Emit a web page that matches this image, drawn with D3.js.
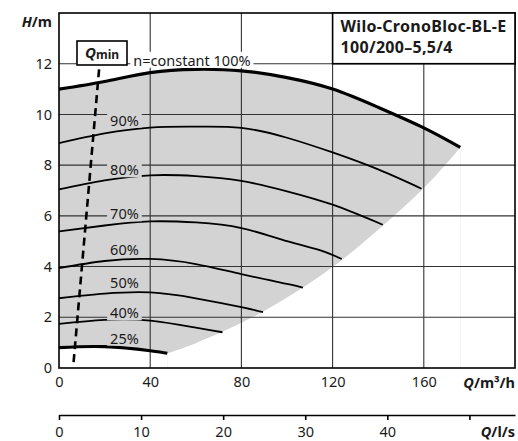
<!DOCTYPE html>
<html>
<head>
<meta charset="utf-8">
<script src="https://cdn.jsdelivr.net/npm/d3@7"></script>
<style>
  body { margin: 0; background: #fff; }
  svg text { font-family: "Noto Sans", "Open Sans", sans-serif; fill: #1a1a1a; }
</style>
</head>
<body>
<div id="chart"></div>
<script>
// pump curves: Q in m3/h, H in m
var q100 = [0, 20, 40, 60, 80, 100, 120, 140, 160, 176];
var h100 = [11.0, 11.3, 11.65, 11.78, 11.72, 11.45, 11.0, 10.28, 9.47, 8.7];
var q90 = [0, 20, 40, 60, 80, 100, 120, 140, 159];
var h90 = [8.87, 9.25, 9.48, 9.52, 9.47, 9.08, 8.5, 7.83, 7.07];
var q80 = [0, 20, 40, 60, 80, 100, 120, 142];
var h80 = [7.04, 7.4, 7.6, 7.57, 7.38, 6.97, 6.44, 5.65];
var q70 = [0, 20, 40, 60, 80, 100, 114, 124];
var h70 = [5.39, 5.62, 5.78, 5.74, 5.52, 5.0, 4.66, 4.3];
var q60 = [0, 20, 40, 60, 80, 100, 107];
var h60 = [3.94, 4.22, 4.3, 4.1, 3.7, 3.32, 3.17];
var q50 = [0, 20, 40, 60, 80, 89.5];
var h50 = [2.75, 2.93, 2.98, 2.75, 2.4, 2.2];
var q40 = [0, 20, 40, 60, 71.7];
var h40 = [1.74, 1.9, 1.87, 1.59, 1.41];
var q25 = [0, 20, 40, 47.5];
var h25 = [0.8, 0.84, 0.68, 0.58];
// lower right edge of the operating range
var qEdge = [47.5, 60, 80, 100, 120, 140, 160, 176];
var hEdge = [0.58, 0.98, 1.78, 2.78, 3.98, 5.45, 7.1, 8.7];
// Qmin line
var qMin = [6.4, 17.8];
var hMin = [0.23, 12];

var speedLabels = ["90%", "80%", "70%", "60%", "50%", "40%", "25%"];
var topLabel = "n=constant 100%";
var qTicks = [0, 40, 80, 120, 160];
var lsTicks = [0, 10, 20, 30, 40, 50];
var hTicks = [0, 2, 4, 6, 8, 10, 12];
var titleLines = ["Wilo-CronoBloc-BL-E", "100/200–5,5/4"];

function pts(qs, hs) {
  return qs.map(function(q, i) { return {q: q, h: hs[i]}; });
}

var margin = {left: 59, right: 3, top: 13, bottom: 73};
var width = 518 - margin.left - margin.right;
var height = 441 - margin.top - margin.bottom;
var gray = "#d3d3d3";

var svg = d3.select("#chart").append("svg")
    .attr("width", 518)
    .attr("height", 441)
  .append("g")
    .attr("transform", "translate(" + margin.left + "," + margin.top + ")");

var x = d3.scaleLinear().domain([0, 200]).range([0, width]);
var y = d3.scaleLinear().domain([0, 14]).range([height, 0]);
var xl = d3.scaleLinear().domain([0, 200 / 3.6]).range([0, width]);

var line = d3.line()
  .x(d => x(d.q))
  .y(d => y(d.h))
  .curve(d3.curveNatural);
var area = d3.area()
  .x(d => x(d.q))
  .y0(y(0))
  .y1(d => y(d.h))
  .curve(d3.curveNatural);

// operating range: gray under the 100% curve, white cut out below the min curves
svg.append("path").attr("d", area(pts(q100, h100))).attr("fill", gray);
svg.append("path").attr("d", area(pts(q25, h25))).attr("fill", "#fff");
svg.append("path").attr("d", area(pts(qEdge, hEdge))).attr("fill", "#fff");

// grid
svg.append("g").selectAll("line")
  .data(qTicks.slice(1))
  .enter().append("line")
    .attr("x1", d => x(d)).attr("x2", d => x(d))
    .attr("y1", 0).attr("y2", height)
    .attr("stroke", "#333").attr("stroke-width", 1.1);
svg.append("g").selectAll("line")
  .data(hTicks.slice(1))
  .enter().append("line")
    .attr("x1", 0).attr("x2", width)
    .attr("y1", d => y(d)).attr("y2", d => y(d))
    .attr("stroke", "#333").attr("stroke-width", 1.1);

// speed curves
var curves = [
  {p: pts(q100, h100), w: 3.2},
  {p: pts(q90, h90), w: 1.8},
  {p: pts(q80, h80), w: 1.8},
  {p: pts(q70, h70), w: 1.8},
  {p: pts(q60, h60), w: 1.8},
  {p: pts(q50, h50), w: 1.8},
  {p: pts(q40, h40), w: 1.8},
  {p: pts(q25, h25), w: 3.2}
];
svg.append("g").selectAll("path")
  .data(curves)
  .enter().append("path")
    .attr("d", d => line(d.p))
    .attr("fill", "none")
    .attr("stroke", "#000")
    .attr("stroke-width", d => d.w);

// curve labels, on a patch of background that breaks the grid line
var labelH = [9.76, 7.8, 6.06, 4.66, 3.36, 2.16, 1.16];
function addLabel(txt, q, h, bg) {
  var g = svg.append("g");
  var t = g.append("text")
    .attr("x", x(q)).attr("y", y(h))
    .attr("text-anchor", "middle")
    .attr("dy", "0.35em")
    .attr("font-size", 14.5)
    .text(txt);
  var b = t.node().getBBox();
  g.insert("rect", "text")
    .attr("x", b.x - 3).attr("y", b.y + 2)
    .attr("width", b.width + 6).attr("height", b.height - 4)
    .attr("fill", bg);
}
speedLabels.forEach(function(s, i) { addLabel(s, 28.7, labelH[i], gray); });
addLabel(topLabel, 58.3, 12.12, "#fff");

// Qmin
svg.append("path")
  .attr("d", d3.line().x(d => x(d.q)).y(d => y(d.h))(pts(qMin, hMin)))
  .attr("stroke", "#000")
  .attr("stroke-width", 2.6)
  .attr("stroke-dasharray", "8,5");
var qBox = svg.append("g");
qBox.append("rect")
  .attr("x", 18).attr("y", 28).attr("width", 50).attr("height", 24)
  .attr("fill", "#fff").attr("stroke", "#000").attr("stroke-width", 1.6);
var qt = qBox.append("text")
  .attr("x", 43).attr("y", 45)
  .attr("text-anchor", "middle")
  .attr("font-weight", "bold");
qt.append("tspan").attr("font-size", 15).attr("font-style", "italic").text("Q");
qt.append("tspan").attr("font-size", 12).attr("dy", 1).text("min");

// frame
svg.append("rect")
  .attr("x", 0).attr("y", 0).attr("width", width).attr("height", height)
  .attr("fill", "none").attr("stroke", "#000").attr("stroke-width", 1.6);

// title box in the top right cell
var tb = svg.append("g");
tb.append("rect")
  .attr("x", x(120)).attr("y", 0)
  .attr("width", width - x(120)).attr("height", y(12))
  .attr("fill", "#fff").attr("stroke", "#000").attr("stroke-width", 1.6);
tb.selectAll("text")
  .data(titleLines)
  .enter().append("text")
    .attr("x", x(120) + 8)
    .attr("y", (d, i) => 19 + i * 21)
    .attr("font-size", 16)
    .attr("letter-spacing", 0.3)
    .attr("font-weight", "bold")
    .text(d => d);

// axes
var yAxis = svg.append("g")
  .call(d3.axisLeft(y).tickValues(hTicks).tickSize(0).tickPadding(7));
var xAxis = svg.append("g")
  .attr("transform", "translate(0," + height + ")")
  .call(d3.axisBottom(x).tickValues(qTicks).tickSize(0).tickPadding(9));
var lsAxis = svg.append("g")
  .attr("transform", "translate(0," + (height + 47) + ")")
  .call(d3.axisBottom(xl).tickValues(lsTicks).tickSizeInner(5).tickSizeOuter(0).tickPadding(7)
    .tickFormat(d => d < 50 ? d : ""));
[yAxis, xAxis, lsAxis].forEach(function(a) {
  a.attr("font-family", null).attr("font-size", null);
  a.selectAll("text").attr("font-size", 14.5).attr("fill", "#1a1a1a");
});
yAxis.select(".domain").remove();
xAxis.select(".domain").remove();
lsAxis.select(".domain").attr("stroke-width", 1.6);
lsAxis.selectAll(".tick line").attr("stroke-width", 1.6);

// axis titles
var hl = svg.append("text")
  .attr("x", -7).attr("y", 14)
  .attr("text-anchor", "end")
  .attr("font-size", 14.5).attr("font-weight", "bold");
hl.append("tspan").attr("font-style", "italic").text("H");
hl.append("tspan").text("/m");

var ql = svg.append("text")
  .attr("x", width).attr("y", height + 20)
  .attr("text-anchor", "end")
  .attr("font-size", 14.5).attr("font-weight", "bold");
ql.append("tspan").attr("font-style", "italic").text("Q");
ql.append("tspan").text("/m³/h");

var qs = svg.append("text")
  .attr("x", width).attr("y", height + 69)
  .attr("text-anchor", "end")
  .attr("font-size", 14.5).attr("font-weight", "bold");
qs.append("tspan").attr("font-style", "italic").text("Q");
qs.append("tspan").text("/l/s");
</script>
</body>
</html>
